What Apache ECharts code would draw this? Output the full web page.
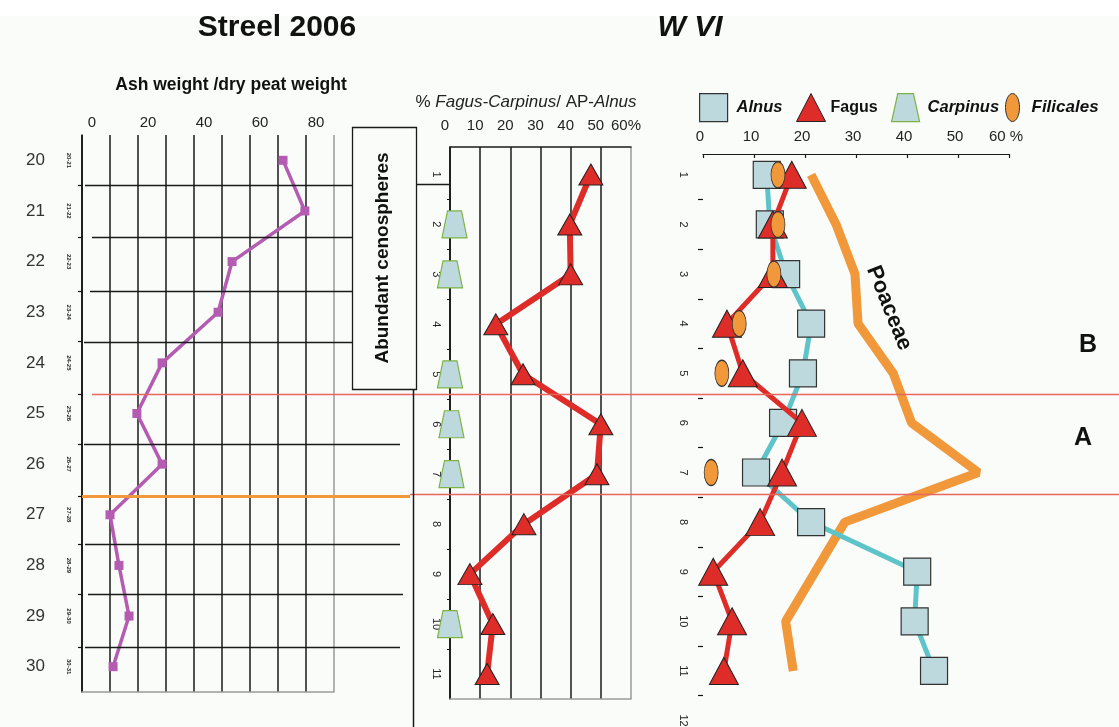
<!DOCTYPE html>
<html>
<head>
<meta charset="utf-8">
<script src="https://cdn.jsdelivr.net/npm/echarts@6/dist/echarts.min.js"></script>
<style>html,body{margin:0;padding:0;background:#fafcfa;}#c{width:1119px;height:727px;}</style>
</head>
<body>
<div id="c"></div>
<script>
// ---------------- data ----------------
const depths = [20, 21, 22, 23, 24, 25, 26, 27, 28, 29, 30];
const depthLabels = ['20-21','21-22','22-23','23-24','24-25','25-26','26-27','27-28','28-29','29-30','30-31'];
const ashRatio = [71.8, 79.6, 53.6, 48.6, 28.6, 19.6, 28.6, 10.0, 13.2, 16.8, 11.1];
const ashTicks = [0, 20, 40, 60, 80];
const sampleBoundaries = [20.49, 21.52, 22.59, 23.58, 24.61, 25.60, 26.63, 27.58, 28.57, 29.62];

const levels = [1, 2, 3, 4, 5, 6, 7, 8, 9, 10, 11];
const rightLevelLabels = [1, 2, 3, 4, 5, 6, 7, 8, 9, 10, 11, 12];
const levelTicks = [1.5, 2.5, 3.5, 4.5, 5.5, 6.5, 7.5, 8.5, 9.5, 10.5, 11.5];
const fagusMid = [46.7, 39.7, 40.0, 15.2, 24.2, 50.0, 48.7, 24.5, 6.6, 14.2, 12.3];
const carpinusMid = [null, 1.5, 0, null, 0, 0.5, 0.5, null, null, 0, null];

const alnus = [12.5, 13.1, 16.3, 21.2, 19.6, 15.7, 10.4, 21.2, 42.0, 41.5, 45.3];
const fagusRight = [17.4, 13.7, 13.7, 4.7, 7.8, 19.4, 15.5, 11.2, 2.0, 5.7, 4.1];
const filicales = [14.7, 14.7, 13.9, 7.1, 3.7, null, 1.6, null, null, null, null];
const poaceae = [21.2, 26.1, 29.8, 30.4, 37.3, 40.9, 54.0, 27.8, 22.0, 16.2, 17.7];

// ---------------- helpers ----------------
const FONT = 'Liberation Sans, Arial, Helvetica, sans-serif';
const pairs = (xs, ys) => xs.map((v, i) => v == null ? null : [v, ys[i]]).filter(p => p);
const TRAP = 'path://M2.2,0 L7.8,0 L10,10 L0,10 Z';
const ELLIPSE = 'path://M5,0 C7.8,0 10,4.5 10,10 C10,15.5 7.8,20 5,20 C2.2,20 0,15.5 0,10 C0,4.5 2.2,0 5,0 Z';
const BLUE = '#bdd9dd', TEAL = '#5ec4c9', RED = '#de2c28', ORANGE = '#f0983a', PURPLE = '#b35cb1';
const gridColors = (n) => Array.from({length: n}, (_, i) => i === n - 1 ? '#9a9a9a' : '#1a1a1a');

const chart = echarts.init(document.getElementById('c'), null, {renderer: 'canvas'});

const option = {
  backgroundColor: '#fafcfa',
  animation: false,
  textStyle: {fontFamily: FONT},
  grid: [
    {left: 82, top: 135, width: 252, height: 557, outerBoundsMode: 'none', containLabel: false},
    {left: 450, top: 147, width: 181, height: 552, outerBoundsMode: 'none', containLabel: false},
    {left: 703, top: 154, width: 306, height: 573, outerBoundsMode: 'none', containLabel: false}
  ],
  legend: [
    {data: [{name: 'Alnus', icon: 'rect', itemStyle: {color: BLUE, borderColor: '#333', borderWidth: 1.2}}],
     left: 694, top: 88, itemWidth: 28, itemHeight: 28, selectedMode: false,
     textStyle: {fontSize: 16.5, fontWeight: 'bold', fontStyle: 'italic', color: '#111', padding: [0, 0, 0, 4]}},
    {data: [{name: 'Fagus', icon: 'triangle', itemStyle: {color: RED, borderColor: '#222', borderWidth: 1}}],
     left: 791, top: 88, itemWidth: 29, itemHeight: 28, selectedMode: false,
     textStyle: {fontSize: 16, fontWeight: 'bold', color: '#111'}},
    {data: [{name: 'Carpinus', icon: TRAP, itemStyle: {color: BLUE, borderColor: '#7cb342', borderWidth: 1.2}}],
     left: 886, top: 88, itemWidth: 28, itemHeight: 28, selectedMode: false,
     textStyle: {fontSize: 16.5, fontWeight: 'bold', fontStyle: 'italic', color: '#111', padding: [0, 0, 0, 3]}},
    {data: [{name: 'Filicales', icon: ELLIPSE, itemStyle: {color: ORANGE, borderColor: '#333', borderWidth: 1}}],
     left: 1000, top: 88, itemWidth: 28, itemHeight: 28, selectedMode: false,
     textStyle: {fontSize: 17, fontWeight: 'bold', fontStyle: 'italic', color: '#111'}}
  ],
  xAxis: [
    {gridIndex: 0, type: 'value', position: 'top', min: 0, max: 90, interval: 10,
     axisLine: {show: false}, axisTick: {show: false},
     axisLabel: {customValues: ashTicks, fontSize: 15, color: '#222', margin: 5, padding: [0, 0, 0, 20]},
     splitLine: {show: true, lineStyle: {color: gridColors(10), width: 1.5}}},
    {gridIndex: 0, type: 'value', position: 'bottom', min: 0, max: 90,
     axisLine: {show: true, lineStyle: {color: '#9a9a9a', width: 1.5}}, axisTick: {show: false},
     axisLabel: {show: false}, splitLine: {show: false}},
    {gridIndex: 1, type: 'value', position: 'top', min: 0, max: 60, interval: 10,
     axisLine: {show: true, lineStyle: {color: '#1a1a1a', width: 1.5}}, axisTick: {show: false},
     axisLabel: {fontSize: 15, color: '#222', margin: 14, padding: [0, 10, 0, 0],
                 formatter: v => v === 60 ? '60%' : String(v)},
     splitLine: {show: true, lineStyle: {color: gridColors(7), width: 1.5}}},
    {gridIndex: 1, type: 'value', position: 'bottom', min: 0, max: 60,
     axisLine: {show: true, lineStyle: {color: '#9a9a9a', width: 1.5}}, axisTick: {show: false},
     axisLabel: {show: false}, splitLine: {show: false}},
    {gridIndex: 2, type: 'value', position: 'top', min: 0, max: 60, interval: 10,
     axisLine: {show: true, lineStyle: {color: '#1a1a1a', width: 1.2}},
     axisTick: {show: true, inside: true, length: 4, lineStyle: {color: '#1a1a1a', width: 1.2}},
     axisLabel: {fontSize: 15, color: '#222', margin: 10, padding: [0, 6, 0, 0],
                 formatter: v => v === 60 ? '60 %' : String(v)},
     splitLine: {show: false}}
  ],
  yAxis: [
    {gridIndex: 0, type: 'value', position: 'left', min: 19.5, max: 30.5, inverse: true,
     axisLine: {show: true, lineStyle: {color: '#111', width: 1.5}},
     axisTick: {show: true, customValues: sampleBoundaries, length: 4, lineStyle: {color: '#111', width: 1.2}},
     axisLabel: {customValues: depths, fontSize: 17, color: '#333', margin: 37},
     splitLine: {show: false}},
    {gridIndex: 0, type: 'value', position: 'left', min: 19.5, max: 30.5, inverse: true, offset: 0,
     axisLine: {show: false}, axisTick: {show: false},
     axisLabel: {customValues: depths, formatter: v => depthLabels[depths.indexOf(v)] || '',
                 fontSize: 6, fontWeight: 'bold', rotate: -90, margin: 10, color: '#222'},
     splitLine: {show: false}},
    {gridIndex: 1, type: 'value', position: 'left', min: 0.45, max: 11.5, inverse: true,
     axisLine: {show: true, lineStyle: {color: '#111', width: 1.5}},
     axisTick: {show: true, customValues: levelTicks.slice(0, 10), length: 3, lineStyle: {color: '#111'}},
     axisLabel: {customValues: levels, fontSize: 11, rotate: -90, margin: 8, color: '#222'},
     splitLine: {show: false}},
    {gridIndex: 2, type: 'value', position: 'left', min: 0.58, max: 12.13, inverse: true,
     axisLine: {show: false},
     axisTick: {show: true, customValues: levelTicks, length: 5, lineStyle: {color: '#111', width: 1.2}},
     axisLabel: {customValues: rightLevelLabels, fontSize: 11, rotate: -90, margin: 14, color: '#222'},
     splitLine: {show: false}}
  ],
  series: [
    {name: 'Ash weight /dry peat weight', type: 'line', xAxisIndex: 0, yAxisIndex: 0,
     data: pairs(ashRatio, depths), symbol: 'rect', symbolSize: 9,
     itemStyle: {color: PURPLE}, lineStyle: {color: PURPLE, width: 3.5}, z: 3},
    {name: 'Fagus', type: 'line', xAxisIndex: 2, yAxisIndex: 2,
     data: pairs(fagusMid, levels), symbol: 'triangle', symbolSize: [24, 21],
     itemStyle: {color: RED, borderColor: '#222', borderWidth: 1}, lineStyle: {color: RED, width: 6}, z: 3},
    {name: 'Carpinus', type: 'scatter', xAxisIndex: 2, yAxisIndex: 2,
     data: pairs(carpinusMid, levels), symbol: TRAP, symbolSize: [25, 27], symbolKeepAspect: false,
     itemStyle: {color: BLUE, borderColor: '#7cb342', borderWidth: 1.2, opacity: 1}, z: 3},
    {name: 'Poaceae', type: 'line', xAxisIndex: 4, yAxisIndex: 3,
     data: pairs(poaceae, levels), symbol: 'none',
     lineStyle: {color: ORANGE, width: 9}, itemStyle: {color: ORANGE}, z: 2},
    {name: 'Alnus', type: 'line', xAxisIndex: 4, yAxisIndex: 3,
     data: pairs(alnus, levels), symbol: 'rect', symbolSize: 27,
     itemStyle: {color: BLUE, borderColor: '#333', borderWidth: 1.2}, lineStyle: {color: TEAL, width: 5}, z: 3},
    {name: 'Fagus', type: 'line', xAxisIndex: 4, yAxisIndex: 3,
     data: pairs(fagusRight, levels), symbol: 'triangle', symbolSize: [29, 27],
     itemStyle: {color: RED, borderColor: '#222', borderWidth: 1}, lineStyle: {color: RED, width: 5}, z: 4},
    {name: 'Filicales', type: 'scatter', xAxisIndex: 4, yAxisIndex: 3,
     data: pairs(filicales, levels), symbol: ELLIPSE, symbolSize: [14, 26], symbolKeepAspect: false,
     itemStyle: {color: ORANGE, borderColor: '#333', borderWidth: 1, opacity: 1}, z: 5}
  ]
};
chart.setOption(option);

// ---------------- annotations (positioned through the axes) ----------------
const yL = v => chart.convertToPixel({yAxisIndex: 0}, v);
const lineStarts = [85, 92, 90, 84, 92, 84, 82, 85, 88, 85];
const lineEnds   = [352, 352, 352, 352, 1119, 400, 410, 400, 403, 400];
const g = [];
g.push({type: 'rect', shape: {x: 0, y: 0, width: 1119, height: 16}, style: {fill: '#ffffff'}, z: -5, silent: true});
sampleBoundaries.forEach((d, i) => {
  const y = Math.round(yL(d)) + 0.5;
  let stroke = '#1a1a1a', w = 1.5;
  if (i === 4) { stroke = '#e8665c'; w = 1.5; }
  if (i === 6) { stroke = '#f0983a'; w = 3; }
  g.push({type: 'line', shape: {x1: lineStarts[i], y1: y, x2: lineEnds[i], y2: y}, style: {stroke, lineWidth: w}, z: 10, silent: true});
});
const y0 = Math.round(yL(sampleBoundaries[0])) - 1 + 0.5;
g.push({type: 'line', shape: {x1: 417, y1: y0, x2: 450, y2: y0}, style: {stroke: '#1a1a1a', lineWidth: 1.5}, z: 10, silent: true});
const yR2 = Math.round(yL(26.59)) + 0.5;
g.push({type: 'line', shape: {x1: 410, y1: yR2, x2: 1119, y2: yR2}, style: {stroke: '#e8665c', lineWidth: 1.5}, z: 10, silent: true});
g.push({type: 'rect', shape: {x: 352.5, y: 127.5, width: 64, height: 262}, style: {fill: '#fafcfa', stroke: '#1a1a1a', lineWidth: 1.3}, z: 11, silent: true});
g.push({type: 'text', x: 383, y: 258, rotation: Math.PI / 2,
        style: {text: 'Abundant cenospheres', font: 'bold 19px ' + FONT, fill: '#111', align: 'center', verticalAlign: 'middle'}, z: 12, silent: true});
g.push({type: 'line', shape: {x1: 413.5, y1: 390, x2: 413.5, y2: 727}, style: {stroke: '#1a1a1a', lineWidth: 1.5}, z: 10, silent: true});
g.push({type: 'text', x: 277, y: 28, style: {text: 'Streel 2006', font: 'bold 30px ' + FONT, fill: '#111', align: 'center', verticalAlign: 'middle'}, z: 12});
g.push({type: 'text', x: 690, y: 28, style: {text: 'W VI', font: 'italic bold 30px ' + FONT, fill: '#111', align: 'center', verticalAlign: 'middle'}, z: 12});
g.push({type: 'text', x: 231, y: 85, style: {text: 'Ash weight /dry peat weight', font: 'bold 17.5px ' + FONT, fill: '#111', align: 'center', verticalAlign: 'middle'}, z: 12});
g.push({type: 'text', x: 526, y: 102, style: {
  text: '{n|% }{i|Fagus-Carpinus}{n|/ AP-}{i|Alnus}', align: 'center', verticalAlign: 'middle',
  rich: {n: {font: '17px ' + FONT, fill: '#222'}, i: {font: 'italic 17px ' + FONT, fill: '#222'}}}, z: 12});
g.push({type: 'text', x: 1088, y: 345, style: {text: 'B', font: 'bold 25px ' + FONT, fill: '#111', align: 'center', verticalAlign: 'middle'}, z: 12});
g.push({type: 'text', x: 1083, y: 438, style: {text: 'A', font: 'bold 25px ' + FONT, fill: '#111', align: 'center', verticalAlign: 'middle'}, z: 12});
g.push({type: 'text', x: 889, y: 308, rotation: -68 * Math.PI / 180,
        style: {text: 'Poaceae', font: 'bold 22px ' + FONT, fill: '#111', align: 'center', verticalAlign: 'middle'}, z: 12});
chart.setOption({graphic: g});
</script>
</body>
</html>
